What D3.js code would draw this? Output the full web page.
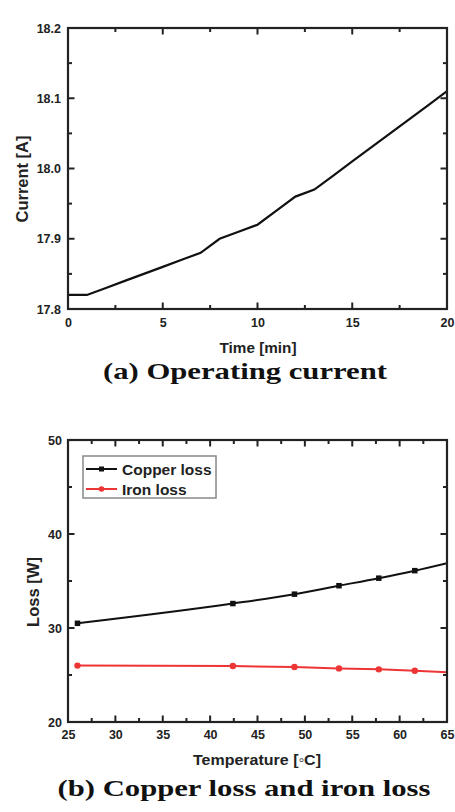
<!DOCTYPE html>
<html>
<head>
<meta charset="utf-8">
<script src="https://cdn.jsdelivr.net/npm/d3@7"></script>
<style>
  body { margin: 0; background: #fff; }
  .tick text { font-family: "Liberation Sans", Arial, sans-serif; font-weight: bold; font-size: 12.5px; fill: #222; }
  .title { font-family: "Liberation Sans", Arial, sans-serif; font-weight: bold; fill: #222; }
  .caption { font-family: "Liberation Serif", "Times New Roman", serif; font-weight: bold; font-size: 24px; fill: #111; }
</style>
</head>
<body>
<div id="chart"></div>
<script>
// (a) operating current
const timeMin = [0, 1, 2, 3, 4, 5, 6, 7, 8, 9, 10, 11, 12, 13, 14, 15, 16, 17, 18, 19, 20];
const currentA = [17.82, 17.82, 17.83, 17.84, 17.85, 17.86, 17.87, 17.88, 17.90, 17.91, 17.92,
  17.94, 17.96, 17.97, 17.99, 18.01, 18.03, 18.05, 18.07, 18.09, 18.11];
const timeTicks = [0, 5, 10, 15, 20];
const currentTicks = [17.8, 17.9, 18.0, 18.1, 18.2];

// (b) losses vs temperature
const tempC = [26, 42.4, 48.9, 53.6, 57.8, 61.6, 65];
const copperLoss = [30.5, 32.6, 33.6, 34.5, 35.3, 36.1, 36.9];
const ironLoss = [26.0, 25.95, 25.85, 25.7, 25.6, 25.45, 25.3];
const tempTicks = [25, 30, 35, 40, 45, 50, 55, 60, 65];
const lossTicks = [20, 30, 40, 50];
const seriesNames = ["Copper loss", "Iron loss"];

const W = 455, H = 812;
const red = "#ee3535";
const ink = "#222";

const svg = d3.select("#chart").append("svg")
  .attr("width", W).attr("height", H);

// boxed frame, labels from d3 axes, inward tick marks on all four sides
function frame(g, x, y, xMajor, xMinor, yMajor, yMinor, fmtY, padX, padY) {
  const [x0, x1] = x.range();
  const [y0, y1] = y.range();

  const xAxis = g.append("g").attr("transform", `translate(0,${y0})`)
    .call(d3.axisBottom(x).tickValues(xMajor).tickSize(0).tickPadding(padX).tickFormat(d3.format("d")));
  const yAxis = g.append("g").attr("transform", `translate(${x0},0)`)
    .call(d3.axisLeft(y).tickValues(yMajor).tickSize(0).tickPadding(padY).tickFormat(fmtY));
  xAxis.select(".domain").remove();
  yAxis.select(".domain").remove();

  const marks = g.append("g").attr("stroke", ink).attr("stroke-width", 2);
  const xt = xMajor.map(v => [v, 6.5]).concat(xMinor.map(v => [v, 4]));
  const yt = yMajor.map(v => [v, 6.5]).concat(yMinor.map(v => [v, 4]));
  marks.selectAll(null).data(xt).join("line")
    .attr("x1", d => x(d[0])).attr("x2", d => x(d[0]))
    .attr("y1", y0).attr("y2", d => y0 - d[1]);
  marks.selectAll(null).data(xt).join("line")
    .attr("x1", d => x(d[0])).attr("x2", d => x(d[0]))
    .attr("y1", y1).attr("y2", d => y1 + d[1]);
  marks.selectAll(null).data(yt).join("line")
    .attr("y1", d => y(d[0])).attr("y2", d => y(d[0]))
    .attr("x1", x0).attr("x2", d => x0 + d[1]);
  marks.selectAll(null).data(yt).join("line")
    .attr("y1", d => y(d[0])).attr("y2", d => y(d[0]))
    .attr("x1", x1).attr("x2", d => x1 - d[1]);

  g.append("rect")
    .attr("x", x0).attr("y", y1)
    .attr("width", x1 - x0).attr("height", y0 - y1)
    .attr("fill", "none").attr("stroke", ink).attr("stroke-width", 2.2);
}

// ---------- chart (a)
const xa = d3.scaleLinear().domain([0, 20]).range([68, 447]);
const ya = d3.scaleLinear().domain([17.8, 18.2]).range([309, 28]);
const ga = svg.append("g");

ga.append("path")
  .datum(timeMin.map((t, i) => [t, currentA[i]]))
  .attr("fill", "none")
  .attr("stroke", "#111")
  .attr("stroke-width", 2.2)
  .attr("d", d3.line().x(d => xa(d[0])).y(d => ya(d[1])));

frame(ga, xa, ya, timeTicks, d3.range(2.5, 20, 5), currentTicks,
  d3.range(17.85, 18.2, 0.1), d3.format(".1f"), 9, 7);

ga.append("text").attr("class", "title")
  .attr("text-anchor", "middle").attr("x", 258).attr("y", 353)
  .style("font-size", "15px")
  .attr("textLength", 77).attr("lengthAdjust", "spacingAndGlyphs")
  .text("Time [min]");
ga.append("text").attr("class", "title")
  .attr("text-anchor", "middle")
  .attr("transform", "translate(27.5,179) rotate(-90)")
  .style("font-size", "16.5px")
  .attr("textLength", 87).attr("lengthAdjust", "spacingAndGlyphs")
  .text("Current [A]");
ga.append("text").attr("class", "caption")
  .attr("text-anchor", "middle").attr("x", 245).attr("y", 378.5)
  .attr("textLength", 284).attr("lengthAdjust", "spacingAndGlyphs")
  .text("(a) Operating current");

// ---------- chart (b)
const xb = d3.scaleLinear().domain([25, 65]).range([68, 447]);
const yb = d3.scaleLinear().domain([20, 50]).range([722, 440]);
const gb = svg.append("g");

svg.append("clipPath").attr("id", "clipb")
  .append("rect").attr("x", 68).attr("y", 440).attr("width", 379).attr("height", 282);

const plot = gb.append("g").attr("clip-path", "url(#clipb)");
const copperPts = tempC.map((t, i) => [t, copperLoss[i]]);
const ironPts = tempC.map((t, i) => [t, ironLoss[i]]);

plot.append("path").datum(ironPts)
  .attr("fill", "none").attr("stroke", red).attr("stroke-width", 2)
  .attr("d", d3.line().x(d => xb(d[0])).y(d => yb(d[1])));
plot.selectAll("circle.iron").data(ironPts.slice(0, -1)).join("circle")
  .attr("class", "iron")
  .attr("cx", d => xb(d[0])).attr("cy", d => yb(d[1])).attr("r", 3.2)
  .attr("fill", red);

plot.append("path").datum(copperPts)
  .attr("fill", "none").attr("stroke", "#111").attr("stroke-width", 2)
  .attr("d", d3.line().curve(d3.curveMonotoneX).x(d => xb(d[0])).y(d => yb(d[1])));
plot.selectAll("rect.cu").data(copperPts.slice(0, -1)).join("rect")
  .attr("class", "cu")
  .attr("x", d => xb(d[0]) - 2.75).attr("y", d => yb(d[1]) - 2.75)
  .attr("width", 5.5).attr("height", 5.5)
  .attr("fill", "#111");

frame(gb, xb, yb, tempTicks, d3.range(27.5, 65, 5), lossTicks,
  d3.range(25, 50, 10), d3.format("d"), 8, 6);

gb.append("text").attr("class", "title")
  .attr("text-anchor", "middle").attr("x", 257).attr("y", 765)
  .style("font-size", "15.5px")
  .attr("textLength", 128).attr("lengthAdjust", "spacingAndGlyphs")
  .text("Temperature [◦C]");
gb.append("text").attr("class", "title")
  .attr("text-anchor", "middle")
  .attr("transform", "translate(39,592) rotate(-90)")
  .style("font-size", "16.5px")
  .attr("textLength", 70).attr("lengthAdjust", "spacingAndGlyphs")
  .text("Loss [W]");
gb.append("text").attr("class", "caption")
  .attr("text-anchor", "middle").attr("x", 244).attr("y", 796)
  .attr("textLength", 373).attr("lengthAdjust", "spacingAndGlyphs")
  .text("(b) Copper loss and iron loss");

// legend
const legend = gb.append("g").attr("transform", "translate(83,456)");
legend.append("rect")
  .attr("width", 133).attr("height", 42)
  .attr("fill", "#fff").attr("stroke", "#888").attr("stroke-width", 1.5);
const colors = ["#111", red];
seriesNames.forEach((name, i) => {
  const row = legend.append("g").attr("transform", `translate(0,${13 + i * 20})`);
  row.append("line").attr("x1", 3).attr("x2", 34)
    .attr("stroke", colors[i]).attr("stroke-width", 2);
  if (i === 0) {
    row.append("rect").attr("x", 16).attr("y", -2.5).attr("width", 5).attr("height", 5).attr("fill", colors[i]);
  } else {
    row.append("circle").attr("cx", 18.5).attr("r", 2.8).attr("fill", colors[i]);
  }
  row.append("text").attr("class", "title")
    .attr("x", 39).attr("y", 5.5)
    .style("font-size", "15.5px")
    .text(name);
});
</script>
</body>
</html>
